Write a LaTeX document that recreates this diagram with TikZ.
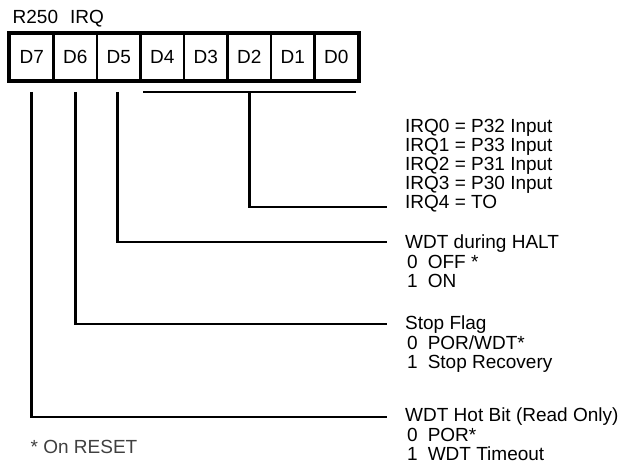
\documentclass[tikz,border=0pt]{standalone}
\usepackage{fontspec}
\setmainfont{Liberation Sans}
\begin{document}
\begin{tikzpicture}[x=1pt,y=-1pt,
  every node/.style={font=\fontsize{19}{22}\selectfont, inner sep=0pt},
  cell/.style={draw, line width=2.3pt, minimum width=43.5pt, minimum height=46pt, anchor=center},
  conn/.style={line width=2.9pt, line cap=butt},
  lbl/.style={anchor=base west}]
\useasboundingbox (0,0) rectangle (634,468);
% title
\node[lbl] (title) at (12.5,23.3) {R250\hspace{12pt}IRQ};
% register cells
\foreach \n [count=\i from 0] in {7,6,5,4,3,2,1,0}{
  \node[cell] (d\n) at ({10+21.75+43.5*\i},57) {D\n};
}
\draw[line width=3.2pt] (d7.north west) rectangle (d0.south east);
% end points of connectors
\coordinate (busL) at (143,92);
\coordinate (busR) at (356,92);
\coordinate (e2) at (387,207);
\coordinate (e5) at (387,242);
\coordinate (e6) at (387,324);
\coordinate (e7) at (387,417);
% connectors
\draw[conn] (busL) -- (busR);
\draw[conn] (d2.south |- busL) |- (e2);
\draw[conn] ([xshift=-1.5pt]d5.south |- busL) |- (e5);
\draw[conn] (d6.south |- busL) |- (e6);
\draw[conn] (d7.south |- busL) |- (e7);
% IRQ text
\node[lbl] (irq0) at (405,132.0) {IRQ0 = P32 Input};
\node[lbl] (irq1) at (405,151.1) {IRQ1 = P33 Input};
\node[lbl] (irq2) at (405,170.2) {IRQ2 = P31 Input};
\node[lbl] (irq3) at (405,189.3) {IRQ3 = P30 Input};
\node[lbl] (irq4) at (405,208.4) {IRQ4 = TO};
% WDT during HALT
\node[lbl] (h0) at (405,248.5) {WDT during HALT};
\node[lbl] (h1) at (407,268.1) {0\hspace{10pt}OFF *};
\node[lbl] (h2) at (407,287.7) {1\hspace{10pt}ON};
% Stop flag
\node[lbl] (s0) at (405,329.5) {Stop Flag};
\node[lbl] (s1) at (407,349.1) {0\hspace{10pt}POR/WDT*};
\node[lbl] (s2) at (407,368.7) {1\hspace{10pt}Stop Recovery};
% WDT hot bit
\node[lbl] (w0) at (405,421.5) {WDT Hot Bit (Read Only)};
\node[lbl] (w1) at (407,441.1) {0\hspace{10pt}POR*};
\node[lbl] (w2) at (407,460.7) {1\hspace{10pt}WDT Timeout};
% footnote
\node[lbl, text=black!75] (foot) at (30.5,453.5) {* On RESET};
\end{tikzpicture}
\end{document}
